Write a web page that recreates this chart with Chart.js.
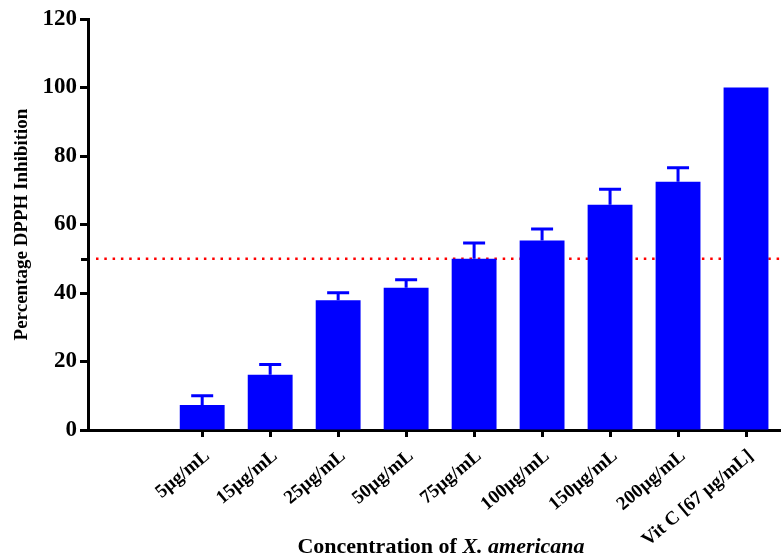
<!DOCTYPE html>
<html>
<head>
<meta charset="utf-8">
<script src="https://cdn.jsdelivr.net/npm/chart.js@4.4.1/dist/chart.umd.min.js"></script>
<style>
  html, body { margin: 0; padding: 0; background: #ffffff; }
  #wrap { width: 782px; height: 560px; position: relative; }
</style>
</head>
<body>
<div id="wrap"><canvas id="c" width="782" height="560"></canvas></div>
<script>
const categories = ['5µg/mL', '15µg/mL', '25µg/mL', '50µg/mL', '75µg/mL', '100µg/mL', '150µg/mL', '200µg/mL', 'Vit C [67 µg/mL]'];
const inhibition = [7.3, 16.1, 37.9, 41.5, 50.0, 55.3, 65.8, 72.5, 100];
const errorUpper = [2.7, 3.0, 2.2, 2.4, 4.6, 3.4, 4.5, 4.1, 0];
const yTickStep = 20;
const yMax = 120;
const threshold = 50;
const yTitle = 'Percentage DPPH Inhibition';
const xTitleMain = 'Concentration of ';
const xTitleItalic = 'X. americana';

const FONT = '"Liberation Serif", "Times New Roman", serif';

const points = categories.map((c, i) => ({ x: i + 1, y: inhibition[i] }));

const thresholdPlugin = {
  id: 'thresholdLine',
  beforeDatasetsDraw(chart) {
    const { ctx, chartArea, scales } = chart;
    const y = scales.y.getPixelForValue(threshold);
    ctx.save();
    ctx.strokeStyle = '#ff0000';
    ctx.lineWidth = 2.5;
    ctx.setLineDash([2.5, 5.8]);
    ctx.beginPath();
    ctx.moveTo(chartArea.left + 8, y);
    ctx.lineTo(chartArea.right, y);
    ctx.stroke();
    ctx.restore();
  },
  afterDraw(chart) {
    const { ctx, chartArea, scales } = chart;
    const y = Math.round(scales.y.getPixelForValue(threshold)) + 0.5;
    ctx.save();
    ctx.strokeStyle = '#000000';
    ctx.lineWidth = 3;
    ctx.beginPath();
    ctx.moveTo(chartArea.left - 7, y);
    ctx.lineTo(chartArea.left, y);
    ctx.stroke();
    ctx.restore();
  }
};

const errorBarPlugin = {
  id: 'errorBars',
  afterDatasetsDraw(chart) {
    const { ctx, scales } = chart;
    const meta = chart.getDatasetMeta(0);
    ctx.save();
    ctx.strokeStyle = '#0000ff';
    ctx.lineWidth = 3;
    meta.data.forEach((bar, i) => {
      const e = errorUpper[i];
      if (!e) return;
      const x = bar.x;
      const yTop = scales.y.getPixelForValue(inhibition[i]);
      const yErr = scales.y.getPixelForValue(inhibition[i] + e);
      ctx.beginPath();
      ctx.moveTo(x, yTop);
      ctx.lineTo(x, yErr);
      ctx.moveTo(x - 11, yErr);
      ctx.lineTo(x + 11, yErr);
      ctx.stroke();
    });
    ctx.restore();
  }
};

const xTitlePlugin = {
  id: 'xTitle',
  afterDraw(chart) {
    const { ctx } = chart;
    ctx.save();
    ctx.fillStyle = '#000000';
    ctx.textBaseline = 'alphabetic';
    const f1 = 'bold 22px ' + FONT;
    const f2 = 'italic bold 22px ' + FONT;
    ctx.font = f1;
    const w1 = ctx.measureText(xTitleMain).width;
    ctx.font = f2;
    const w2 = ctx.measureText(xTitleItalic).width;
    const cx = 441;
    const start = cx - (w1 + w2) / 2;
    ctx.font = f1;
    ctx.textAlign = 'left';
    ctx.fillText(xTitleMain, start, 553);
    ctx.font = f2;
    ctx.fillText(xTitleItalic, start + w1, 553);
    ctx.restore();
  }
};

new Chart(document.getElementById('c'), {
  type: 'bar',
  data: {
    datasets: [{
      data: points,
      backgroundColor: '#0000ff',
      borderWidth: 0,
      barPercentage: 0.66,
      categoryPercentage: 1.0
    }]
  },
  options: {
    responsive: false,
    animation: false,
    devicePixelRatio: 1,
    layout: { padding: { top: 19, right: 2, left: 0, bottom: 0 } },
    plugins: {
      legend: { display: false },
      tooltip: { enabled: false },
      title: { display: false }
    },
    scales: {
      x: {
        type: 'linear',
        offset: false,
        min: -0.68,
        max: 9.5,
        afterBuildTicks(scale) {
          scale.ticks = categories.map((c, i) => ({ value: i + 1 }));
        },
        afterFit(scale) { scale.height = 130; },
        grid: {
          offset: false,
          drawOnChartArea: false,
          drawTicks: true,
          tickLength: 7,
          tickWidth: 3,
          tickColor: '#000000'
        },
        border: { display: true, color: '#000000', width: 3 },
        ticks: {
          autoSkip: false,
          minRotation: 40,
          maxRotation: 40,
          padding: 8,
          labelOffset: 5,
          color: '#000000',
          font: { family: FONT, size: 19, weight: 'bold' },
          callback: (v) => categories[v - 1] || ''
        }
      },
      y: {
        min: 0,
        max: yMax,
        afterFit(scale) { scale.width = 88; },
        grid: {
          drawOnChartArea: false,
          drawTicks: true,
          tickLength: 8,
          tickWidth: 3,
          tickColor: '#000000'
        },
        border: { display: true, color: '#000000', width: 3 },
        ticks: {
          stepSize: yTickStep,
          padding: 3,
          color: '#000000',
          font: { family: FONT, size: 23, weight: 'bold' }
        },
        title: {
          display: true,
          text: yTitle,
          color: '#000000',
          padding: { top: 11, bottom: 0 },
          font: { family: FONT, size: 19, weight: 'bold' }
        }
      }
    }
  },
  plugins: [thresholdPlugin, errorBarPlugin, xTitlePlugin]
});
</script>
</body>
</html>
